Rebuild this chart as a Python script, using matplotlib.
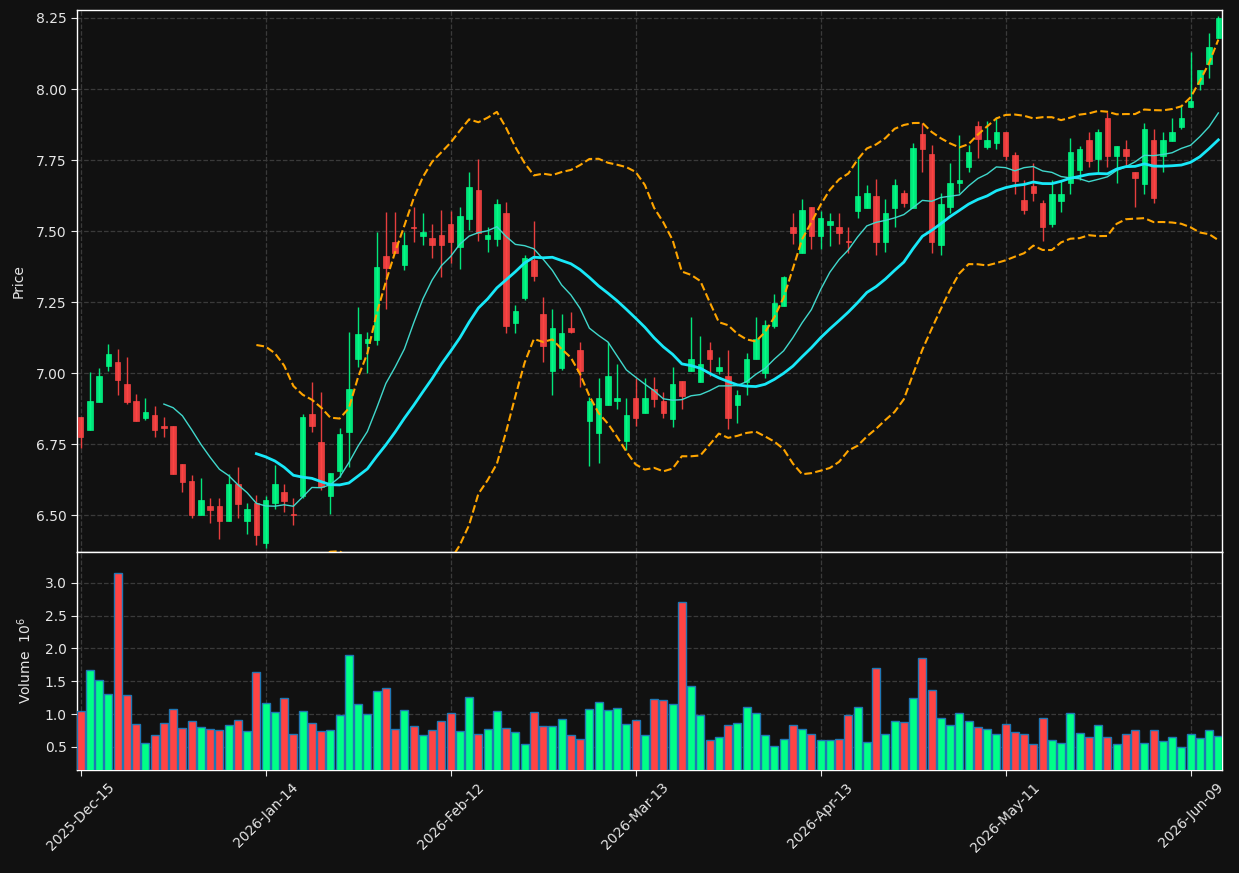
import matplotlib
matplotlib.use('Agg')
import matplotlib.pyplot as plt
from matplotlib.ticker import MultipleLocator, FormatStrFormatter
import numpy as np
import pandas as pd

# OHLC (daily bars, 2025-12-15 .. 2026-06-12)
opens = [6.844, 6.800, 6.899, 7.026, 7.039, 6.961, 6.901, 6.843, 6.852, 6.813,
         6.813, 6.680, 6.620, 6.500, 6.532, 6.532, 6.479, 6.609, 6.480, 6.541,
         6.403, 6.541, 6.581, 6.505, 6.568, 6.855, 6.756, 6.568, 6.656, 6.793,
         7.048, 7.107, 7.116, 7.412, 7.461, 7.380, 7.515, 7.483, 7.474, 7.486,
         7.525, 7.444, 7.543, 7.644, 7.473, 7.473, 7.563, 7.177, 7.265, 7.398,
         7.208, 7.008, 7.018, 7.157, 7.080, 6.832, 6.790, 6.888, 6.900, 6.762,
         6.912, 6.860, 6.943, 6.901, 6.839, 6.972, 7.008, 6.969, 7.081, 7.008,
         6.989, 6.888, 6.969, 7.048, 6.999, 7.165, 7.237, 7.513, 7.424, 7.583,
         7.483, 7.521, 7.515, 7.465, 7.571, 7.582, 7.623, 7.462, 7.582, 7.633,
         7.582, 7.842, 7.771, 7.451, 7.586, 7.668, 7.726, 7.870, 7.797, 7.809,
         7.849, 7.767, 7.609, 7.658, 7.600, 7.525, 7.607, 7.668, 7.715, 7.820,
         7.754, 7.899, 7.765, 7.789, 7.707, 7.667, 7.820, 7.765, 7.818, 7.866,
         7.938, 8.017, 8.087, 8.178]
highs = [6.846, 7.005, 7.017, 7.104, 7.083, 7.055, 6.928, 6.911, 6.883, 6.844,
         6.813, 6.680, 6.640, 6.629, 6.559, 6.559, 6.644, 6.668, 6.541, 6.569,
         6.568, 6.677, 6.609, 6.559, 6.855, 6.969, 6.932, 6.647, 6.805, 7.145,
         7.234, 7.145, 7.498, 7.566, 7.566, 7.498, 7.583, 7.562, 7.525, 7.574,
         7.571, 7.583, 7.709, 7.752, 7.513, 7.612, 7.601, 7.238, 7.414, 7.534,
         7.266, 7.226, 7.208, 7.216, 7.108, 6.917, 6.981, 7.110, 7.031, 6.912,
         6.982, 6.981, 6.987, 6.932, 7.020, 6.972, 7.196, 7.130, 7.108, 7.057,
         7.081, 6.940, 7.069, 7.196, 7.187, 7.278, 7.342, 7.562, 7.612, 7.583,
         7.571, 7.562, 7.562, 7.513, 7.760, 7.662, 7.682, 7.612, 7.682, 7.644,
         7.809, 7.879, 7.803, 7.633, 7.738, 7.838, 7.803, 7.887, 7.887, 7.900,
         7.850, 7.779, 7.680, 7.738, 7.609, 7.680, 7.680, 7.826, 7.800, 7.847,
         7.859, 7.920, 7.799, 7.820, 7.707, 7.879, 7.859, 7.850, 7.897, 7.944,
         8.129, 8.067, 8.196, 8.258]
lows = [6.735, 6.800, 6.899, 7.007, 6.921, 6.891, 6.832, 6.834, 6.774, 6.774,
        6.646, 6.580, 6.491, 6.500, 6.473, 6.414, 6.479, 6.491, 6.432, 6.393,
        6.383, 6.520, 6.512, 6.464, 6.559, 6.793, 6.590, 6.504, 6.635, 6.670,
        7.022, 6.999, 7.099, 7.224, 7.421, 7.363, 7.462, 7.451, 7.404, 7.337,
        7.386, 7.365, 7.504, 7.466, 7.425, 7.447, 7.140, 7.140, 7.257, 7.325,
        7.038, 6.921, 7.011, 7.140, 6.950, 6.674, 6.682, 6.888, 6.872, 6.729,
        6.812, 6.860, 6.881, 6.840, 6.811, 6.872, 7.008, 6.969, 6.989, 6.996,
        6.802, 6.823, 6.923, 7.048, 6.981, 7.157, 7.237, 7.454, 7.424, 7.435,
        7.435, 7.447, 7.453, 7.424, 7.545, 7.582, 7.415, 7.425, 7.513, 7.583,
        7.582, 7.709, 7.424, 7.415, 7.562, 7.633, 7.709, 7.756, 7.788, 7.788,
        7.749, 7.629, 7.559, 7.606, 7.466, 7.515, 7.568, 7.629, 7.680, 7.726,
        7.709, 7.726, 7.668, 7.726, 7.586, 7.629, 7.597, 7.709, 7.818, 7.859,
        7.938, 7.996, 8.038, 8.178]
closes = [6.774, 6.901, 6.989, 7.067, 6.977, 6.899, 6.832, 6.863, 6.800, 6.806,
          6.646, 6.617, 6.500, 6.553, 6.518, 6.479, 6.609, 6.540, 6.521, 6.431,
          6.553, 6.609, 6.549, 6.501, 6.844, 6.815, 6.600, 6.647, 6.785, 6.944,
          7.137, 7.119, 7.372, 7.371, 7.421, 7.451, 7.511, 7.496, 7.451, 7.451,
          7.462, 7.553, 7.654, 7.494, 7.485, 7.595, 7.167, 7.218, 7.405, 7.343,
          7.096, 7.157, 7.141, 7.145, 7.008, 6.901, 6.911, 6.989, 6.912, 6.851,
          6.840, 6.911, 6.910, 6.860, 6.960, 6.919, 7.048, 7.032, 7.048, 7.020,
          6.840, 6.923, 7.048, 7.119, 7.169, 7.245, 7.337, 7.494, 7.574, 7.483,
          7.545, 7.535, 7.494, 7.461, 7.623, 7.635, 7.462, 7.562, 7.662, 7.600,
          7.791, 7.789, 7.462, 7.595, 7.668, 7.680, 7.778, 7.825, 7.820, 7.849,
          7.765, 7.677, 7.574, 7.635, 7.513, 7.630, 7.629, 7.779, 7.789, 7.746,
          7.847, 7.765, 7.799, 7.765, 7.688, 7.859, 7.617, 7.820, 7.850, 7.899,
          7.958, 8.067, 8.148, 8.251]
# volume in millions
volumes = [1.044, 1.674, 1.521, 1.308, 3.152, 1.293, 0.851, 0.561, 0.683, 0.866,
           1.079, 0.790, 0.896, 0.805, 0.774, 0.759, 0.835, 0.912, 0.744, 1.643,
           1.171, 1.034, 1.247, 0.698, 1.049, 0.866, 0.744, 0.759, 0.988, 1.902,
           1.155, 1.003, 1.354, 1.399, 0.774, 1.064, 0.820, 0.683, 0.759, 0.896,
           1.018, 0.744, 1.262, 0.698, 0.774, 1.049, 0.790, 0.729, 0.546, 1.034,
           0.820, 0.820, 0.927, 0.683, 0.622, 1.079, 1.186, 1.064, 1.095, 0.851,
           0.912, 0.683, 1.232, 1.216, 1.155, 2.710, 1.430, 0.988, 0.607, 0.652,
           0.835, 0.866, 1.110, 1.018, 0.683, 0.515, 0.622, 0.835, 0.774, 0.698,
           0.607, 0.607, 0.622, 0.988, 1.110, 0.576, 1.704, 0.698, 0.896, 0.881,
           1.247, 1.857, 1.369, 0.942, 0.835, 1.018, 0.896, 0.805, 0.774, 0.698,
           0.851, 0.729, 0.698, 0.546, 0.942, 0.607, 0.561, 1.018, 0.713, 0.652,
           0.835, 0.652, 0.546, 0.698, 0.759, 0.561, 0.759, 0.591, 0.652, 0.500,
           0.698, 0.637, 0.759, 0.667]

tick_pos = [0, 20, 40, 60, 80, 100, 120]
tick_labels = ['2025-Dec-15', '2026-Jan-14', '2026-Feb-12', '2026-Mar-13',
               '2026-Apr-13', '2026-May-11', '2026-Jun-09']

df = pd.DataFrame({'Open': opens, 'High': highs, 'Low': lows,
                   'Close': closes, 'Volume': volumes})
df['ma10'] = df['Close'].rolling(10).mean()
df['ma20'] = df['Close'].rolling(20).mean()
sd = df['Close'].rolling(20).std(ddof=0)
df['upper'] = df['ma20'] + 2 * sd
df['lower'] = df['ma20'] - 2 * sd

bg = '#111111'
up = '#00ff88'
down = '#ff4444'
txt = '#e6e6e6'
gridc = '#3a3a3a'

x = np.arange(len(df))
is_up = df['Close'] >= df['Open']
colors = np.where(is_up, up, down)

fig = plt.figure(figsize=(12.39, 8.73), dpi=100, facecolor=bg)
ax = fig.add_axes([0.0621, 0.3677, 0.9242, 0.6208])
ax2 = fig.add_axes([0.0621, 0.1180, 0.9242, 0.2497], sharex=ax)

for a in (ax, ax2):
    a.set_facecolor(bg)
    for s in a.spines.values():
        s.set_color('white')
        s.set_linewidth(1)
    a.tick_params(colors=txt, labelsize=10, direction='out', length=4)
    a.grid(True, linestyle='--', color=gridc, linewidth=0.9)
    a.set_axisbelow(True)

# candles
ax.vlines(x, df['Low'], df['High'], colors=colors, linewidth=1, alpha=0.9, zorder=2)
bottoms = np.minimum(df['Open'], df['Close'])
heights = (df['Close'] - df['Open']).abs()
ax.bar(x, heights, bottom=bottoms, width=0.6, color=colors, edgecolor=colors,
       linewidth=0.5, alpha=0.9, zorder=3)

# indicators
ax.plot(x, df['ma10'], color='#40d8cc', linewidth=1, zorder=4)
ax.plot(x, df['ma20'], color='#18e8f8', linewidth=2, zorder=4)
ax.plot(x, df['upper'], color='#ffa500', linestyle='--', linewidth=1.5, zorder=4)
ax.plot(x, df['lower'], color='#ffa500', linestyle='--', linewidth=1.5, zorder=4)

ax.set_ylim(6.37, 8.278)
ax.yaxis.set_major_locator(MultipleLocator(0.25))
ax.yaxis.set_major_formatter(FormatStrFormatter('%.2f'))
ax.set_ylabel('Price', color=txt, fontsize=10, labelpad=7.5)
ax.tick_params(axis='x', labelbottom=False, length=0)

# volume
ax2.bar(x, df['Volume'], width=0.85, color=colors, edgecolor='#1f77b4',
        linewidth=1, zorder=3)
ax2.set_ylim(0.3 * df['Volume'].min(), 1.1 * df['Volume'].max())
ax2.yaxis.set_major_locator(MultipleLocator(0.5))
ax2.yaxis.set_major_formatter(FormatStrFormatter('%.1f'))
ax2.set_ylabel('Volume  $10^{6}$', color=txt, fontsize=10, labelpad=7.5)

ax2.set_xlim(-0.4, 123.4)
ax2.set_xticks(tick_pos)
ax2.set_xticklabels(tick_labels, rotation=45, ha='center')

fig.savefig('out.png', dpi=100, facecolor=bg)
